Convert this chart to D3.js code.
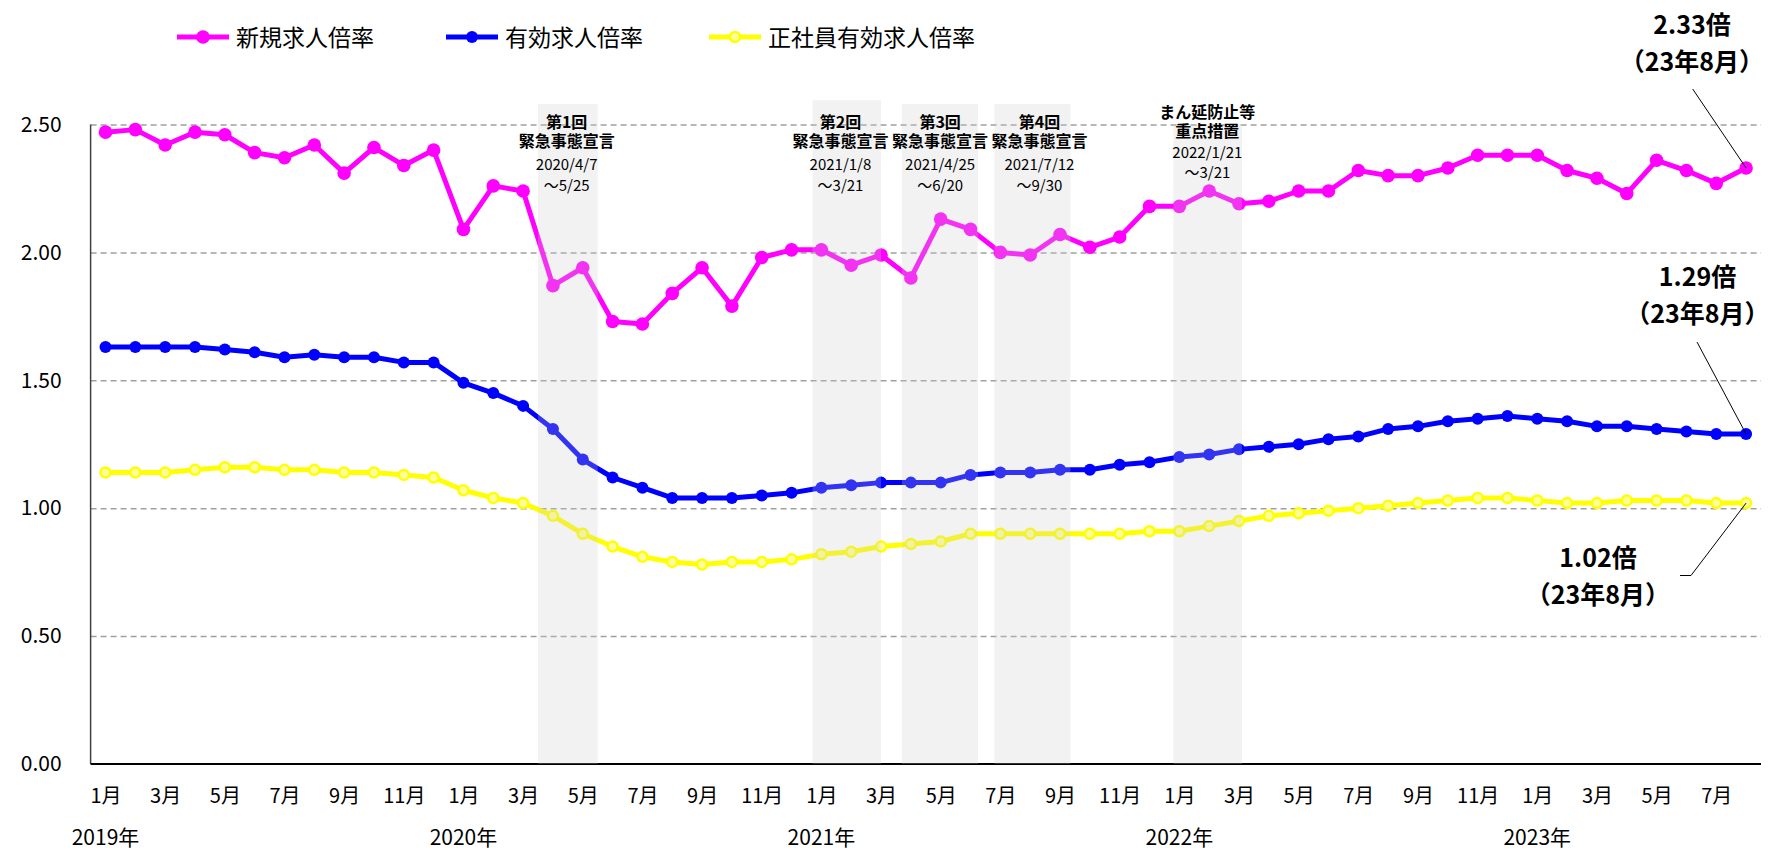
<!DOCTYPE html>
<html>
<head>
<meta charset="utf-8" />
<title>求人倍率の推移</title>
<script src="https://d3js.org/d3.v7.min.js"></script>
<style>
  body { margin: 0; background: #fff; }
  svg text { font-family: "Noto Sans CJK JP", "Noto Sans", sans-serif; fill: #000; }
</style>
</head>
<body>
<svg width="1775" height="852"></svg>
<script>
    // months (2019/1 - 2023/8)
    var categories = [
        "2019/1", "2019/2", "2019/3", "2019/4", "2019/5", "2019/6", "2019/7", "2019/8", "2019/9", "2019/10", "2019/11", "2019/12",
        "2020/1", "2020/2", "2020/3", "2020/4", "2020/5", "2020/6", "2020/7", "2020/8", "2020/9", "2020/10", "2020/11", "2020/12",
        "2021/1", "2021/2", "2021/3", "2021/4", "2021/5", "2021/6", "2021/7", "2021/8", "2021/9", "2021/10", "2021/11", "2021/12",
        "2022/1", "2022/2", "2022/3", "2022/4", "2022/5", "2022/6", "2022/7", "2022/8", "2022/9", "2022/10", "2022/11", "2022/12",
        "2023/1", "2023/2", "2023/3", "2023/4", "2023/5", "2023/6", "2023/7", "2023/8"
    ];

    // 新規求人倍率
    var newRatio = [
        2.47, 2.48, 2.42, 2.47, 2.46, 2.39, 2.37, 2.42, 2.31, 2.41, 2.34, 2.40,
        2.09, 2.26, 2.24, 1.87, 1.94, 1.73, 1.72, 1.84, 1.94, 1.79, 1.98, 2.01,
        2.01, 1.95, 1.99, 1.90, 2.13, 2.09, 2.00, 1.99, 2.07, 2.02, 2.06, 2.18,
        2.18, 2.24, 2.19, 2.20, 2.24, 2.24, 2.32, 2.30, 2.30, 2.33, 2.38, 2.38,
        2.38, 2.32, 2.29, 2.23, 2.36, 2.32, 2.27, 2.33
    ];

    // 有効求人倍率
    var activeRatio = [
        1.63, 1.63, 1.63, 1.63, 1.62, 1.61, 1.59, 1.60, 1.59, 1.59, 1.57, 1.57,
        1.49, 1.45, 1.40, 1.31, 1.19, 1.12, 1.08, 1.04, 1.04, 1.04, 1.05, 1.06,
        1.08, 1.09, 1.10, 1.10, 1.10, 1.13, 1.14, 1.14, 1.15, 1.15, 1.17, 1.18,
        1.20, 1.21, 1.23, 1.24, 1.25, 1.27, 1.28, 1.31, 1.32, 1.34, 1.35, 1.36,
        1.35, 1.34, 1.32, 1.32, 1.31, 1.30, 1.29, 1.29
    ];

    // 正社員有効求人倍率
    var regularRatio = [
        1.14, 1.14, 1.14, 1.15, 1.16, 1.16, 1.15, 1.15, 1.14, 1.14, 1.13, 1.12,
        1.07, 1.04, 1.02, 0.97, 0.90, 0.85, 0.81, 0.79, 0.78, 0.79, 0.79, 0.80,
        0.82, 0.83, 0.85, 0.86, 0.87, 0.90, 0.90, 0.90, 0.90, 0.90, 0.90, 0.91,
        0.91, 0.93, 0.95, 0.97, 0.98, 0.99, 1.00, 1.01, 1.02, 1.03, 1.04, 1.04,
        1.03, 1.02, 1.02, 1.03, 1.03, 1.03, 1.02, 1.02
    ];

    var seriesNames = ["新規求人倍率", "有効求人倍率", "正社員有効求人倍率"];
    var yTicks = [0, 0.5, 1.0, 1.5, 2.0, 2.5];
    var yearLabels = ["2019年", "2020年", "2021年", "2022年", "2023年"];
    var yearStarts = ["2019/1", "2020/1", "2021/1", "2022/1", "2023/1"];

    // shaded periods, in month positions (0 = 2019/1)
    var periodTitles = [["第1回", "緊急事態宣言"], ["第2回", "緊急事態宣言"], ["第3回", "緊急事態宣言"], ["第4回", "緊急事態宣言"], ["まん延防止等", "重点措置"]];
    var periodDates = [["2020/4/7", "～5/25"], ["2021/1/8", "～3/21"], ["2021/4/25", "～6/20"], ["2021/7/12", "～9/30"], ["2022/1/21", "～3/21"]];
    var periodFrom = [14.5, 23.7, 26.7, 29.8, 35.8];
    var periodTo = [16.5, 26.0, 29.25, 32.35, 38.1];

    var latestLabels = ["2.33倍", "1.29倍", "1.02倍"];
    var latestMonth = "（23年8月）";

    var svg = d3.select("svg");
    var margin = { top: 124.5, right: 14, bottom: 88, left: 90.6 },
        width = +svg.attr("width") - margin.left - margin.right,
        height = +svg.attr("height") - margin.top - margin.bottom;

    var x = d3.scaleLinear().domain([-0.5, categories.length - 0.5]).range([0, width]);
    var y = d3.scaleLinear().domain([0, 2.5]).range([height, 0]);

    var g = svg.append("g").attr("transform", "translate(" + margin.left + "," + margin.top + ")");

    // dashed grid
    g.append("g")
        .call(d3.axisLeft(y).tickValues(yTicks.filter(function (d) { return d > 0; })).tickSize(-width).tickFormat(""))
        .call(function (s) { s.select(".domain").remove(); })
        .selectAll("line")
        .attr("stroke", "#a0a0a0")
        .attr("stroke-width", 1.5)
        .attr("stroke-dasharray", "6,4");

    // y labels
    g.append("g")
        .call(d3.axisLeft(y).tickValues(yTicks).tickSize(0).tickPadding(29).tickFormat(d3.format(".2f")))
        .call(function (s) { s.select(".domain").remove(); })
        .selectAll("text")
        .style("font-size", "21px");

    // x labels: odd months
    var oddIdx = d3.range(categories.length).filter(function (i) { return +categories[i].split("/")[1] % 2 === 1; });
    g.append("g")
        .attr("transform", "translate(0," + height + ")")
        .call(d3.axisBottom(x).tickValues(oddIdx).tickSize(0).tickPadding(25)
            .tickFormat(function (i) { return categories[i].split("/")[1] + "月"; }))
        .call(function (s) { s.select(".domain").remove(); })
        .selectAll("text")
        .style("font-size", "20px");

    g.selectAll(".year")
        .data(yearLabels)
        .enter()
        .append("text")
        .attr("class", "year")
        .attr("text-anchor", "middle")
        .attr("x", function (d, i) { return x(categories.indexOf(yearStarts[i])); })
        .attr("y", height + 81)
        .style("font-size", "21px")
        .text(function (d) { return d; });

    // axis lines
    g.append("line").attr("x1", 0).attr("x2", 0).attr("y1", 0).attr("y2", height)
        .attr("stroke", "#404040").attr("stroke-width", 1.5);
    g.append("line").attr("x1", 0).attr("x2", width).attr("y1", height).attr("y2", height)
        .attr("stroke", "#000").attr("stroke-width", 1.8);

    // series
    var series = [
        { name: seriesNames[0], values: newRatio, color: "#ff00ff", fill: "#ff00ff", r: 6.8, sw: 0 },
        { name: seriesNames[1], values: activeRatio, color: "#0000ff", fill: "#0000ff", r: 6, sw: 0 },
        { name: seriesNames[2], values: regularRatio, color: "#ffff00", fill: "#ffff99", r: 5, sw: 2.5 }
    ];

    var line = d3.line()
        .x(function (d, i) { return x(i); })
        .y(function (d) { return y(d); });

    series.slice().reverse().forEach(function (s) {
        g.append("path")
            .datum(s.values)
            .attr("fill", "none")
            .attr("stroke", s.color)
            .attr("stroke-width", 5)
            .attr("stroke-linejoin", "round")
            .attr("d", line);
        g.selectAll(null)
            .data(s.values)
            .enter()
            .append("circle")
            .attr("cx", function (d, i) { return x(i); })
            .attr("cy", function (d) { return y(d); })
            .attr("r", s.r)
            .attr("fill", s.fill)
            .attr("stroke", s.color)
            .attr("stroke-width", s.sw);
    });

    // shaded periods over the lines
    var periodTop = [2.58, 2.595, 2.58, 2.58, 2.5];
    g.selectAll(".period")
        .data(periodFrom)
        .enter()
        .append("rect")
        .attr("class", "period")
        .attr("x", function (d) { return x(d); })
        .attr("width", function (d, i) { return x(periodTo[i]) - x(d); })
        .attr("y", function (d, i) { return y(periodTop[i]); })
        .attr("height", function (d, i) { return height - y(periodTop[i]); })
        .attr("fill", "#cccccc")
        .attr("fill-opacity", 0.25);

    // period labels (baselines relative to the plot top)
    var labelPos = [15.46, 24.64, 27.98, 31.31, 36.94];
    var labelLines = [[3, 22.5, 45.5, 66.5], [3, 22.5, 45.5, 66.5], [3, 22.5, 45.5, 66.5], [3, 22.5, 45.5, 66.5], [-6.7, 12.3, 33.5, 53.5]];
    labelPos.forEach(function (p, i) {
        var lx = x(p), ly = labelLines[i];
        g.append("text").attr("text-anchor", "middle").attr("x", lx).attr("y", ly[0])
            .style("font-size", "16px").style("font-weight", "bold").text(periodTitles[i][0]);
        g.append("text").attr("text-anchor", "middle").attr("x", lx).attr("y", ly[1])
            .style("font-size", "16px").style("font-weight", "bold").text(periodTitles[i][1]);
        g.append("text").attr("text-anchor", "middle").attr("x", lx).attr("y", ly[2])
            .style("font-size", "15px").text(periodDates[i][0]);
        g.append("text").attr("text-anchor", "middle").attr("x", lx).attr("y", ly[3])
            .style("font-size", "15px").text(periodDates[i][1]);
    });

    // latest value callouts
    var last = categories.length - 1;
    var callouts = [
        { v: newRatio[last], tx: 1692 - margin.left, ty: 33.5 - margin.top, lx: 1692.7 - margin.left, ly: 89 - margin.top, elbow: null },
        { v: activeRatio[last], tx: 1697.5 - margin.left, ty: 285.5 - margin.top, lx: 1697 - margin.left, ly: 342 - margin.top, elbow: null },
        { v: regularRatio[last], tx: 1598 - margin.left, ty: 566.5 - margin.top, lx: 1691 - margin.left, ly: 575.5 - margin.top, elbow: 1680 - margin.left }
    ];
    callouts.forEach(function (c, i) {
        var pts = [[x(last), y(c.v)], [c.lx, c.ly]];
        if (c.elbow !== null) pts.push([c.elbow, c.ly]);
        g.append("path")
            .attr("d", d3.line()(pts))
            .attr("fill", "none")
            .attr("stroke", "#000")
            .attr("stroke-width", 1);
        g.append("text").attr("text-anchor", "middle").attr("x", c.tx).attr("y", c.ty)
            .style("font-size", "25px").style("font-weight", "bold").text(latestLabels[i]);
        g.append("text").attr("text-anchor", "middle").attr("x", c.tx).attr("y", c.ty + 37.5)
            .style("font-size", "25px").style("font-weight", "bold").text(latestMonth);
    });

    // legend
    var legendX = [177, 446, 709];
    var lg = svg.append("g").attr("transform", "translate(0,37)");
    series.forEach(function (s, i) {
        var item = lg.append("g").attr("transform", "translate(" + legendX[i] + ",0)");
        item.append("line").attr("x1", 0).attr("x2", 52).attr("stroke", s.color).attr("stroke-width", 5);
        item.append("circle").attr("cx", 26).attr("r", s.r).attr("fill", s.fill)
            .attr("stroke", s.color).attr("stroke-width", s.sw);
        item.append("text").attr("x", 59).attr("y", 8.5).style("font-size", "23px").text(s.name);
    });
</script>
</body>
</html>
